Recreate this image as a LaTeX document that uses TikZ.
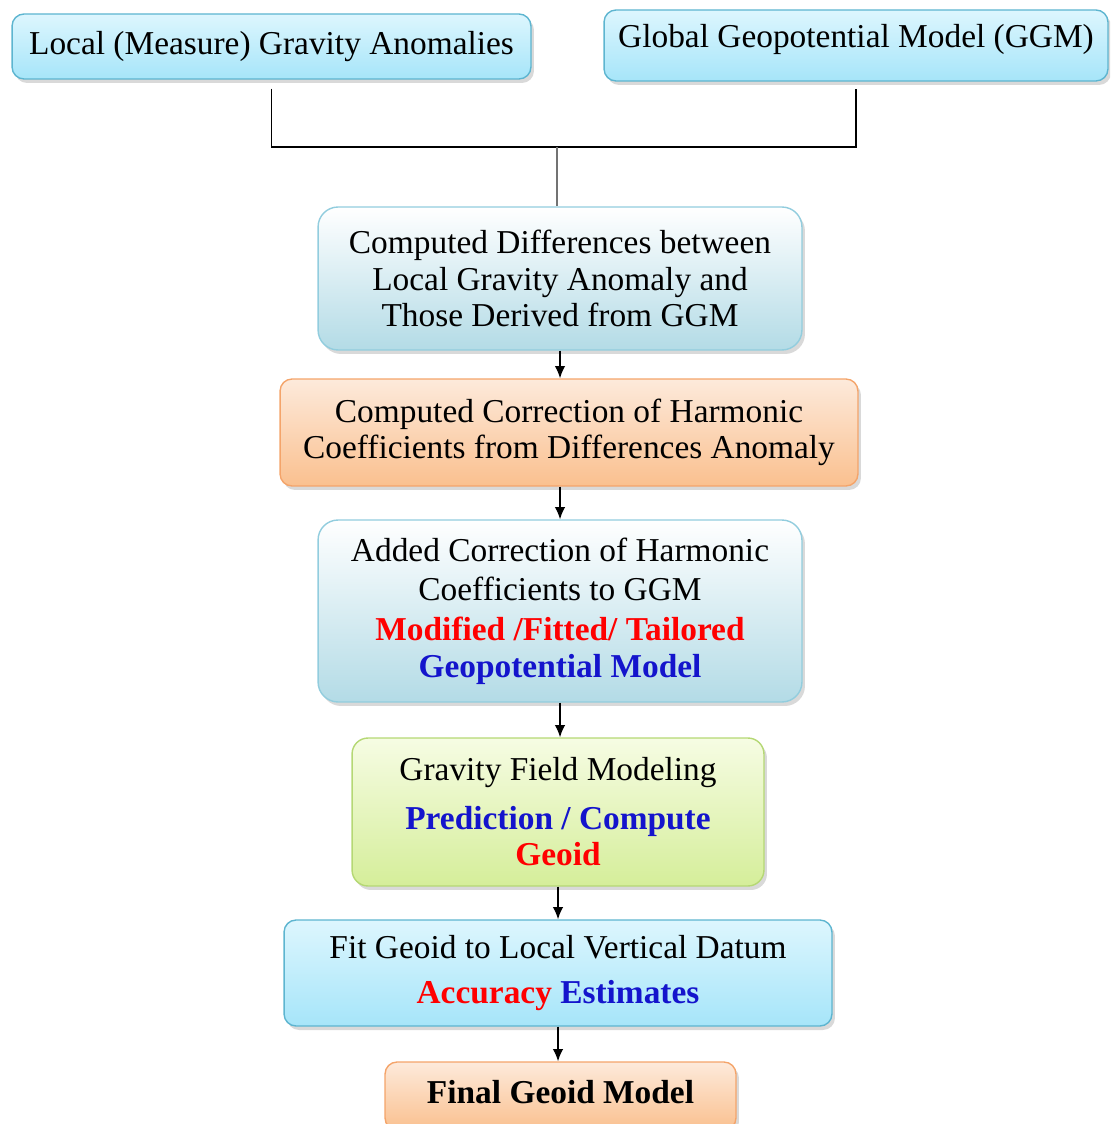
\documentclass[tikz,border=0pt]{standalone}
\usepackage{fontspec}
\setmainfont{Liberation Serif}
\usepackage{tikz}
\usepackage{xcolor}
\usetikzlibrary{arrows.meta,positioning,calc,shadows}

\definecolor{skytop}{HTML}{DDF6FE}
\definecolor{skybot}{HTML}{A6E5F9}
\definecolor{skyline}{HTML}{5DB5D0}
\definecolor{paletop}{HTML}{FFFFFF}
\definecolor{palebot}{HTML}{B3DBE6}
\definecolor{paleline}{HTML}{92CDDE}
\definecolor{ortop}{HTML}{FDEADB}
\definecolor{orbot}{HTML}{FAC08F}
\definecolor{orline}{HTML}{F4A46A}
\definecolor{grtop}{HTML}{F6FCE3}
\definecolor{grbot}{HTML}{D5EE9A}
\definecolor{grline}{HTML}{B5D874}
\definecolor{hired}{HTML}{FF0000}
\definecolor{hiblue}{HTML}{1414CC}

\tikzset{
  box/.style={rounded corners=0.24cm,align=center,line width=0.8pt,
    font=\fontsize{19}{20.7}\selectfont,inner sep=0pt,
    drop shadow={shadow xshift=0.06cm,shadow yshift=-0.08cm,opacity=0.3}},
  skybox/.style={box,draw=skyline,top color=skytop,bottom color=skybot},
  palebox/.style={box,rounded corners=0.4cm,draw=paleline,top color=paletop,bottom color=palebot},
  orbox/.style={box,draw=orline,top color=ortop,bottom color=orbot},
  grbox/.style={box,rounded corners=0.32cm,draw=grline,top color=grtop,bottom color=grbot},
  flow/.style={-{Latex[length=7pt,width=6pt]},line width=0.8pt}
}

\begin{document}
\begin{tikzpicture}[x=0.02cm,y=-0.02cm]
\clip[use as bounding box] (0,0) rectangle (1110,1124);

% inputs
\node[skybox,minimum width=10.38cm,minimum height=1.3cm] (loc) at (271.5,46.5)
  {Local (Measure) Gravity Anomalies};
\node[skybox,minimum width=10.08cm,minimum height=1.42cm,text depth=0.4cm] (ggm) at (856,45.5)
  {Global Geopotential Model (GGM)};

% processing chain
\node[palebox,minimum width=9.68cm,minimum height=2.86cm] (diff) at (560,278.5)
  {Computed Differences between\\Local Gravity Anomaly and\\Those Derived from GGM};
\node[orbox,minimum width=11.56cm,minimum height=2.14cm] (corr) at (569,432.5)
  {Computed Correction of Harmonic\\Coefficients from Differences Anomaly};
\node[palebox,minimum width=9.68cm,minimum height=3.64cm] (added) at (560,611)
  {Added Correction of Harmonic\\[1.5pt]Coefficients to GGM\\[2.5pt]
   \textcolor{hired}{\bfseries Modified /Fitted/ Tailored}\\
   \textcolor{hiblue}{\bfseries Geopotential Model}};
\node[grbox,minimum width=8.24cm,minimum height=2.96cm] (gfm) at (558,812)
  {Gravity Field Modeling\\[7pt]
   \textcolor{hiblue}{\bfseries Prediction / Compute}\\
   \textcolor{hired}{\bfseries Geoid}};
\node[skybox,minimum width=10.96cm,minimum height=2.12cm] (fit) at (558,973)
  {Fit Geoid to Local Vertical Datum\\[5pt]
   \textcolor{hired}{\bfseries Accuracy} \textcolor{hiblue}{\bfseries Estimates}};
\node[orbox,minimum width=7.02cm,minimum height=1.36cm,text depth=0.15cm] (final) at (560.5,1096)
  {\bfseries Final Geoid Model};

% merge of the two inputs
\coordinate (join) at (557,147);
\draw[line width=0.8pt] ([yshift=-0.18cm]loc.south) |- (join) -| ([yshift=-0.14cm]ggm.south);
\draw[line width=1.5pt,black!55] (join) -- (join |- diff.north);

\draw[flow] (diff.south) -- (diff.south |- corr.north);
\draw[flow] (diff.south |- corr.south) -- (added.north);
\draw[flow] (added.south) -- (added.south |- gfm.north);
\draw[flow] (gfm.south) -- (gfm.south |- fit.north);
\draw[flow] (fit.south) -- (fit.south |- final.north);
\end{tikzpicture}
\end{document}
